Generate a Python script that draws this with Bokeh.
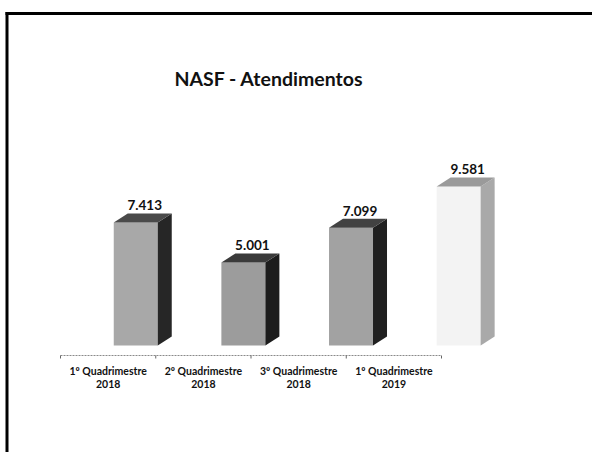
from bokeh.plotting import figure
from bokeh.models import Range1d, Label
from bokeh.core.properties import value
from bokeh.embed import file_html
from bokeh.resources import INLINE

# ---- data ----
categories = ["1º Quadrimestre\n2018", "2º Quadrimestre\n2018",
              "3º Quadrimestre\n2018", "1º Quadrimestre\n2019"]
values = [7413, 5001, 7099, 9581]
value_labels = ["7.413", "5.001", "7.099", "9.581"]
title_text = "NASF - Atendimentos"

# ---- styling / layout ----
W, H = 592, 452
PX_X = 95.25          # pixels per category
PX_Y = 0.0166         # pixels per unit value
X0_PX = 60            # pixel position of category 0 boundary
Y0_PX = 345           # pixel position (from top) of value 0
x_start = -X0_PX / PX_X
x_end = (W - X0_PX) / PX_X
y_end = Y0_PX / PX_Y
y_start = -(H - Y0_PX) / PX_Y


def px_x(px):
    return (px - X0_PX) / PX_X


def px_y(px):
    return (Y0_PX - px) / PX_Y


front_cols = ["#a8a8a8", "#9c9c9c", "#a2a2a2", "#f3f3f3"]
side_cols = ["#262626", "#1c1c1c", "#202020", "#a9a9a9"]
top_cols = ["#4a4a4a", "#3a3a3a", "#424242", "#9a9a9a"]

bar_w = 44 / PX_X
dx = 14 / PX_X
dy = 9 / PX_Y
persp_shift = 0.29
persp_spread = 0.13

p = figure(width=W, height=H, x_range=Range1d(x_start, x_end),
           y_range=Range1d(y_start, y_end), x_axis_type=None, y_axis_type=None,
           toolbar_location=None, output_backend="svg", min_border=0,
           outline_line_color=None)
p.background_fill_color = "white"
p.border_fill_color = "white"

xs_front, ys_front, xs_side, ys_side, xs_top, ys_top = [], [], [], [], [], []
lab_x, lab_y = [], []
for i, v in enumerate(values):
    xc = i + 0.5 + persp_shift + persp_spread * i
    xl, xr = xc - bar_w / 2, xc + bar_w / 2
    xs_front.append([xl, xr, xr, xl]); ys_front.append([0, 0, v, v])
    xs_side.append([xr, xr + dx, xr + dx, xr]); ys_side.append([0, dy, v + dy, v])
    xs_top.append([xl, xr, xr + dx, xl + dx]); ys_top.append([v, v, v + dy, v + dy])
    lab_x.append(xc + dx / 2 + 2 / PX_X)
    lab_y.append(v + dy + 3 / PX_Y)

p.patches(xs_front, ys_front, fill_color=front_cols, line_color=None)
p.patches(xs_side, ys_side, fill_color=side_cols, line_color=None)
p.patches(xs_top, ys_top, fill_color=top_cols, line_color=None)

p.text(lab_x, lab_y, text=value_labels, text_font=value("Lato"),
       text_font_style="bold", text_font_size="13.5px", text_align="center",
       text_baseline="bottom", text_color="#111111")

# axis line with ticks at category boundaries
axis_y = px_y(355)
n = len(values)
p.segment(x0=[0], y0=[axis_y], x1=[n], y1=[axis_y],
          line_color="#8a8a8a", line_width=1, line_dash="2 1")
p.segment(x0=list(range(n + 1)), y0=[axis_y] * (n + 1),
          x1=list(range(n + 1)), y1=[px_y(358)] * (n + 1),
          line_color="#666666", line_width=1)

# category labels
cx = [i + 0.5 for i in range(len(categories))]
line1 = [c.split("\n")[0] for c in categories]
line2 = [c.split("\n")[1] for c in categories]
p.text(cx, [px_y(370)] * len(cx), text=line1, text_font=value("Lato"),
       text_font_style="bold", text_font_size="10.5px", text_align="center",
       text_baseline="middle", text_color="#111111")
p.text(cx, [px_y(383)] * len(cx), text=line2, text_font=value("Lato"),
       text_font_style="bold", text_font_size="10.5px", text_align="center",
       text_baseline="middle", text_color="#111111")

# title
p.add_layout(Label(x=268.5, y=H - 78, x_units="screen", y_units="screen",
                   text=title_text, text_font="Lato", text_font_style="bold",
                   text_font_size="19.5px", text_align="center",
                   text_baseline="middle", text_color="#111111"))

# page border (top and left)
p.segment(x0=[px_x(5), px_x(6.5)], y0=[px_y(13), px_y(11.5)],
          x1=[px_x(W), px_x(6.5)], y1=[px_y(13), px_y(H)],
          line_color="black", line_width=3)

open("out.html", "w").write(file_html(p, INLINE))
